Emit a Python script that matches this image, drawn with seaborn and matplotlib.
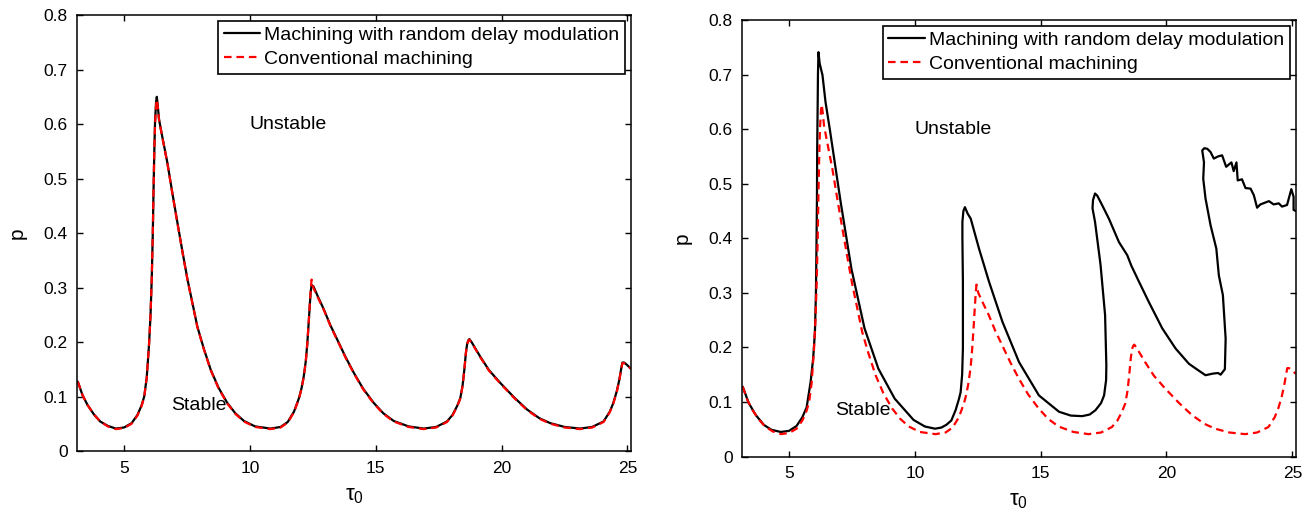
import numpy as np
import pandas as pd
import matplotlib
matplotlib.use("Agg")
import matplotlib.pyplot as plt
import seaborn as sns

# ---------------- data ----------------
x_ticks = [5, 10, 15, 20, 25]
y_ticks = [0, 0.1, 0.2, 0.3, 0.4, 0.5, 0.6, 0.7, 0.8]
y_tick_labels = ["0", "0.1", "0.2", "0.3", "0.4", "0.5", "0.6", "0.7", "0.8"]
label_rdm = "Machining with random delay modulation"
label_conv = "Conventional machining"

# conventional machining (red dashed, same in both panels)
tau_conv = [3.16, 3.35, 3.55, 3.8, 4.05, 4.35, 4.67, 5.0, 5.3, 5.53, 5.7, 5.8, 5.9,
            5.99, 6.05, 6.10, 6.14, 6.17, 6.20, 6.23, 6.27, 6.30, 6.34, 6.39, 6.5,
            6.72, 6.92, 7.12, 7.32, 7.52, 7.72, 7.91, 8.15, 8.44, 8.75, 9.10, 9.42,
            9.76, 10.2, 10.82, 11.22, 11.5, 11.75, 11.95, 12.05, 12.14, 12.22, 12.28,
            12.34, 12.38, 12.42, 12.45, 12.52, 12.7, 12.94, 13.2, 13.47, 13.8, 14.13,
            14.5, 14.92, 15.3, 15.71, 16.3, 16.9, 17.4, 17.83, 18.05, 18.23, 18.36,
            18.45, 18.52, 18.58, 18.63, 18.68, 18.72, 18.8, 19.15, 19.5, 19.94, 20.5,
            21.01, 21.5, 21.93, 22.5, 23.12, 23.6, 24.05, 24.3, 24.44, 24.58, 24.68,
            24.75, 24.80, 24.87, 25.0, 25.13]
p_conv = [0.128, 0.103, 0.085, 0.068, 0.055, 0.046, 0.041, 0.043, 0.051, 0.066, 0.084,
          0.100, 0.135, 0.195, 0.25, 0.32, 0.40, 0.48, 0.55, 0.60, 0.635, 0.645, 0.63,
          0.607, 0.58, 0.528, 0.472, 0.418, 0.365, 0.314, 0.270, 0.228, 0.19, 0.149,
          0.116, 0.088, 0.069, 0.055, 0.045, 0.041, 0.044, 0.053, 0.072, 0.097, 0.115,
          0.137, 0.165, 0.198, 0.24, 0.271, 0.30, 0.315, 0.300, 0.282, 0.259, 0.230,
          0.204, 0.172, 0.143, 0.114, 0.088, 0.069, 0.055, 0.045, 0.041, 0.044, 0.054,
          0.066, 0.082, 0.097, 0.120, 0.150, 0.180, 0.197, 0.203, 0.205, 0.200, 0.173,
          0.148, 0.125, 0.098, 0.076, 0.060, 0.051, 0.044, 0.041, 0.044, 0.054, 0.072,
          0.088, 0.110, 0.131, 0.150, 0.162, 0.162, 0.157, 0.152]

# random delay modulation, left panel (small modulation, almost identical)
tau_rdm_left = tau_conv
p_rdm_left = [0.128, 0.103, 0.085, 0.068, 0.055, 0.047, 0.042, 0.044, 0.052, 0.067, 0.085,
              0.101, 0.136, 0.196, 0.25, 0.32, 0.40, 0.48, 0.55, 0.605, 0.64, 0.650, 0.632,
              0.608, 0.581, 0.529, 0.473, 0.419, 0.366, 0.315, 0.271, 0.229, 0.191, 0.150,
              0.117, 0.089, 0.070, 0.056, 0.046, 0.042, 0.045, 0.054, 0.073, 0.098, 0.116,
              0.138, 0.166, 0.198, 0.24, 0.27, 0.295, 0.305, 0.303, 0.284, 0.260, 0.231,
              0.205, 0.173, 0.144, 0.115, 0.089, 0.070, 0.056, 0.046, 0.042, 0.045, 0.055,
              0.067, 0.083, 0.098, 0.121, 0.150, 0.180, 0.197, 0.204, 0.206, 0.201, 0.174,
              0.149, 0.126, 0.099, 0.077, 0.061, 0.052, 0.045, 0.042, 0.045, 0.055, 0.073,
              0.089, 0.111, 0.132, 0.151, 0.163, 0.163, 0.158, 0.152]

# random delay modulation, right panel (large modulation, traced path order)
tau_rdm_right = [3.16, 3.4, 3.68, 4.0, 4.3, 4.67, 5.0, 5.3, 5.53, 5.7, 5.86, 5.96, 6.03,
                 6.07, 6.09, 6.11, 6.12, 6.14, 6.15, 6.17, 6.22, 6.33, 6.45, 6.62, 7.05,
                 7.48, 8.0, 8.55, 9.2, 9.95, 10.4, 10.8, 11.05, 11.25, 11.45, 11.62, 11.75,
                 11.82, 11.88, 11.91, 11.91, 11.89, 11.89, 11.93, 11.99, 12.1, 12.22, 12.55,
                 12.95, 13.48, 14.14, 14.93, 15.73, 16.2, 16.65, 16.95, 17.18, 17.4, 17.52,
                 17.6, 17.61, 17.56, 17.38, 17.16, 17.06, 17.08, 17.16, 17.25, 17.45, 17.71,
                 18.11, 18.44, 18.6, 18.91, 19.30, 19.83, 20.36, 20.89, 21.2, 21.55, 21.85,
                 22.05, 22.15, 22.32, 22.35, 22.24, 22.08, 21.98, 21.75, 21.55, 21.46, 21.49,
                 21.42, 21.5, 21.62, 21.75, 21.88, 22.05, 22.21, 22.37, 22.58, 22.67, 22.78,
                 22.83, 23.0, 23.14, 23.34, 23.47, 23.60, 23.73, 24.07, 24.26, 24.46, 24.59,
                 24.79, 24.96, 25.05, 25.05, 25.13]
p_rdm_right = [0.128, 0.098, 0.076, 0.058, 0.049, 0.045, 0.047, 0.056, 0.072, 0.090, 0.137,
               0.18, 0.228, 0.30, 0.381, 0.47, 0.564, 0.65, 0.70, 0.741, 0.72, 0.699, 0.65,
               0.600, 0.467, 0.344, 0.235, 0.161, 0.106, 0.067, 0.055, 0.051, 0.053, 0.058,
               0.066, 0.085, 0.105, 0.118, 0.15, 0.198, 0.32, 0.40, 0.43, 0.45, 0.457, 0.445,
               0.436, 0.381, 0.32, 0.247, 0.173, 0.112, 0.082, 0.075, 0.074, 0.077, 0.085,
               0.098, 0.112, 0.14, 0.167, 0.259, 0.351, 0.43, 0.455, 0.47, 0.482, 0.478,
               0.46, 0.436, 0.393, 0.369, 0.35, 0.32, 0.283, 0.235, 0.198, 0.170, 0.160,
               0.149, 0.152, 0.153, 0.150, 0.160, 0.216, 0.296, 0.332, 0.381, 0.424, 0.473,
               0.509, 0.539, 0.561, 0.565, 0.564, 0.558, 0.546, 0.550, 0.552, 0.531, 0.539,
               0.523, 0.539, 0.506, 0.508, 0.492, 0.491, 0.479, 0.456, 0.462, 0.468, 0.462,
               0.464, 0.458, 0.461, 0.490, 0.476, 0.452, 0.450]

# ---------------- style ----------------
sns.set_style("ticks")
plt.rcParams.update({
    "font.family": ["Liberation Sans", "DejaVu Sans"],
    "mathtext.fontset": "custom",
    "mathtext.rm": "Liberation Sans",
    "mathtext.it": "Liberation Sans:italic",
    "xtick.direction": "in", "ytick.direction": "in",
    "xtick.top": True, "ytick.right": True,
    "axes.linewidth": 1.1,
    "xtick.major.width": 1.0, "ytick.major.width": 1.0,
    "xtick.major.size": 4, "ytick.major.size": 4,
    "axes.edgecolor": "black", "text.color": "black",
    "xtick.color": "black", "ytick.color": "black", "axes.labelcolor": "black",
})

fig = plt.figure(figsize=(13.13, 5.18), dpi=100)
axL = fig.add_axes([0.0589, 0.1284, 0.4215, 0.8427])
axR = fig.add_axes([0.5653, 0.1187, 0.4215, 0.8427])

dash = (0, (3.4, 2.2))


def draw(ax, tau_b, p_b):
    df_b = pd.DataFrame({"tau": tau_b, "p": p_b})
    df_r = pd.DataFrame({"tau": tau_conv, "p": p_conv})
    sns.lineplot(data=df_b, x="tau", y="p", sort=False, estimator=None, ax=ax,
                 color="black", linewidth=1.6, label=label_rdm)
    sns.lineplot(data=df_r, x="tau", y="p", sort=False, estimator=None, ax=ax,
                 color="#ff0000", linewidth=1.6, linestyle=dash, label=label_conv)
    ax.set_xlim(np.pi, 8 * np.pi)
    ax.set_ylim(0, 0.8)
    ax.set_xticks(x_ticks)
    ax.set_yticks(y_ticks)
    ax.set_yticklabels(y_tick_labels)
    ax.tick_params(labelsize=12.5, pad=7)
    ax.set_xlabel("τ$_0$", fontsize=16, labelpad=6)
    ax.set_ylabel("p", fontsize=15, labelpad=12)
    ax.text(10.0, 0.60, "Unstable", fontsize=14, ha="left", va="center")
    ax.text(6.85, 0.085, "Stable", fontsize=14, ha="left", va="center")
    leg = ax.legend(loc="upper right", fontsize=14, frameon=True, fancybox=False,
                    framealpha=1, edgecolor="black", borderpad=0.3, labelspacing=0.3,
                    handlelength=1.9, handletextpad=0.18, borderaxespad=0.3)
    leg.get_frame().set_linewidth(1.2)


draw(axL, tau_rdm_left, p_rdm_left)
draw(axR, tau_rdm_right, p_rdm_right)

fig.savefig("out.png", dpi=100)
